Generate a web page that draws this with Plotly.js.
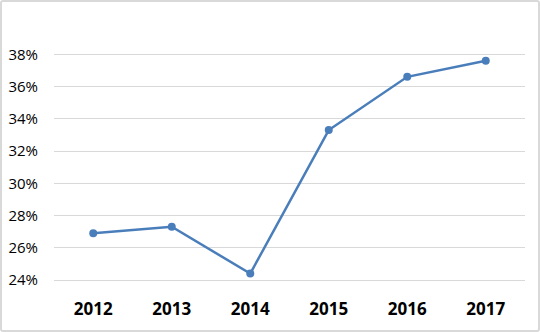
<!DOCTYPE html>
<html><head><meta charset="utf-8">
<script src="https://cdn.plot.ly/plotly-3.0.1.min.js"></script>
<style>
html,body{margin:0;padding:0;background:#fff;}
#wrap{position:relative;width:540px;height:332px;}
#chart{width:540px;height:332px;}
#frame{position:absolute;left:0;top:0;width:540px;height:332px;box-sizing:border-box;border:2px solid #d9d9d9;border-radius:3px;pointer-events:none;}
</style></head>
<body>
<div id="wrap"><div id="chart"></div><div id="frame"></div></div>
<script>
const years = ['2012','2013','2014','2015','2016','2017'];
const shares = [26.9, 27.3, 24.4, 33.3, 36.6, 37.6];
const yTicks = [24, 26, 28, 30, 32, 34, 36, 38];
const yTickText = yTicks.map(v => v + '%');

Plotly.newPlot('chart', [{
  x: years, y: shares, type: 'scatter', mode: 'lines+markers',
  line: {color: '#4a7ebb', width: 2.5},
  marker: {color: '#4a7ebb', size: 8}
}], {
  width: 540, height: 332,
  margin: {l: 54, r: 15, t: 22, b: 52},
  paper_bgcolor: '#fff', plot_bgcolor: '#fff',
  showlegend: false,
  font: {family: 'Open Sans, Noto Sans, sans-serif', color: '#000'},
  xaxis: {
    type: 'category', range: [-0.5, 5.5], showgrid: false,
    showline: true, linecolor: '#d9d9d9', linewidth: 1,
    ticks: 'outside', ticklen: 14, tickcolor: 'rgba(0,0,0,0)',
    tickfont: {size: 17, color: '#000', weight: 'bold'}, zeroline: false
  },
  yaxis: {
    range: [24, 40], tickvals: yTicks, ticktext: yTickText,
    showgrid: true, gridcolor: '#d9d9d9', gridwidth: 1, zeroline: false,
    ticks: 'outside', ticklen: 12, tickcolor: 'rgba(0,0,0,0)',
    tickfont: {size: 15, color: '#000'}
  }
}, {displayModeBar: false, staticPlot: true});
</script>
</body></html>
